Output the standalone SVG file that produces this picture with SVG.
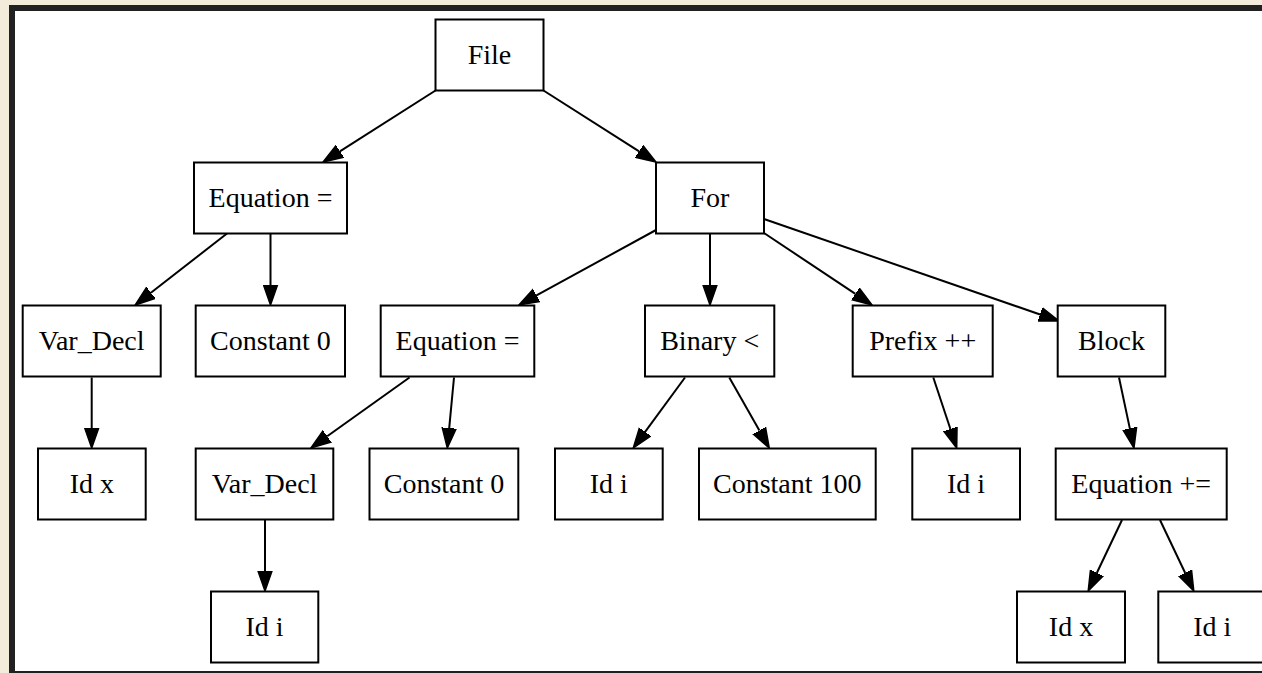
<svg xmlns="http://www.w3.org/2000/svg" width="1262" height="673" viewBox="0 0 1262 673">
<style>
.n rect{fill:#fff;stroke:#000;stroke-width:2}
.n text{font-family:"Liberation Serif","Times New Roman",serif;font-size:28px;fill:#000;text-anchor:middle}
.e line{stroke:#000;stroke-width:2;marker-end:url(#ah)}
</style>
<defs>
<marker id="ah" markerUnits="userSpaceOnUse" viewBox="0 -8 22 16" refX="0" refY="0" markerWidth="22" markerHeight="16" orient="auto">
<path d="M0,-7 L20,0 L0,7 Z" fill="#000" stroke="#000" stroke-width="1.5" stroke-linejoin="miter"/>
</marker>
</defs>
<rect x="0" y="0" width="1262" height="673" fill="#f4ecda"/>
<rect x="9" y="5" width="1253" height="668" fill="#212121"/>
<rect x="15" y="11" width="1247" height="660" fill="#fff"/>
<g id="edges" class="e">
<line x1="435.5" y1="90.5" x2="339.9" y2="151.3"/>
<line x1="543.5" y1="90.5" x2="639.1" y2="151.3"/>
<line x1="227" y1="233.5" x2="150.9" y2="292.8"/>
<line x1="270.5" y1="233.5" x2="270.5" y2="285"/>
<line x1="656" y1="230" x2="536.5" y2="295.4"/>
<line x1="710" y1="233.5" x2="710" y2="285"/>
<line x1="764" y1="233" x2="855.4" y2="293.9"/>
<line x1="764" y1="219" x2="1040.1" y2="314.5"/>
<line x1="91.7" y1="377.5" x2="91.7" y2="428"/>
<line x1="409.5" y1="377.5" x2="327.2" y2="436.3"/>
<line x1="454" y1="377.5" x2="449.2" y2="428.1"/>
<line x1="685" y1="377.5" x2="645.1" y2="431.9"/>
<line x1="729.3" y1="377.5" x2="759.4" y2="430.6"/>
<line x1="933.3" y1="377.5" x2="950.4" y2="429"/>
<line x1="1119" y1="377.5" x2="1129.8" y2="428.4"/>
<line x1="265" y1="520" x2="265" y2="571"/>
<line x1="1122" y1="520" x2="1096.8" y2="573"/>
<line x1="1160" y1="520" x2="1185.2" y2="573"/>
</g>
<g id="n_file" class="n"><rect x="435.5" y="19.5" width="108" height="71"/><text x="489.5" y="64">File</text></g>
<g id="n_eq1" class="n"><rect x="194" y="162.5" width="153" height="71"/><text x="270.5" y="207">Equation =</text></g>
<g id="n_for" class="n"><rect x="656" y="162.5" width="108" height="71"/><text x="710" y="207">For</text></g>
<g id="n_vd1" class="n"><rect x="22.7" y="305.5" width="138" height="71"/><text x="91.7" y="350">Var_Decl</text></g>
<g id="n_c0a" class="n"><rect x="195.7" y="305.5" width="149.3" height="71"/><text x="270.4" y="350">Constant 0</text></g>
<g id="n_eq2" class="n"><rect x="380.7" y="305.5" width="153.6" height="71"/><text x="457.5" y="350">Equation =</text></g>
<g id="n_bin" class="n"><rect x="645" y="305.5" width="129.3" height="71"/><text x="709.7" y="350">Binary &lt;</text></g>
<g id="n_pre" class="n"><rect x="852.7" y="305.5" width="140" height="71"/><text x="922.7" y="350">Prefix ++</text></g>
<g id="n_blk" class="n"><rect x="1057.7" y="305.5" width="107.6" height="71"/><text x="1111.5" y="350">Block</text></g>
<g id="n_idx1" class="n"><rect x="38" y="448.5" width="107.7" height="71"/><text x="91.8" y="493">Id x</text></g>
<g id="n_vd2" class="n"><rect x="195.7" y="448.5" width="137.6" height="71"/><text x="264.5" y="493">Var_Decl</text></g>
<g id="n_c0b" class="n"><rect x="369.5" y="448.5" width="148.8" height="71"/><text x="444" y="493">Constant 0</text></g>
<g id="n_idi1" class="n"><rect x="555" y="448.5" width="107.7" height="71"/><text x="608.8" y="493">Id i</text></g>
<g id="n_c100" class="n"><rect x="699" y="448.5" width="176.7" height="71"/><text x="787.3" y="493">Constant 100</text></g>
<g id="n_idi2" class="n"><rect x="912.3" y="448.5" width="107.7" height="71"/><text x="966.1" y="493">Id i</text></g>
<g id="n_eqp" class="n"><rect x="1055.7" y="448.5" width="171" height="71"/><text x="1141.2" y="493">Equation +=</text></g>
<g id="n_idi3" class="n"><rect x="211" y="591.5" width="107.3" height="71"/><text x="264.6" y="636">Id i</text></g>
<g id="n_idx2" class="n"><rect x="1017" y="591.5" width="108" height="71"/><text x="1071" y="636">Id x</text></g>
<g id="n_idi4" class="n"><rect x="1158.3" y="591.5" width="108" height="71"/><text x="1212.3" y="636">Id i</text></g>
</svg>
